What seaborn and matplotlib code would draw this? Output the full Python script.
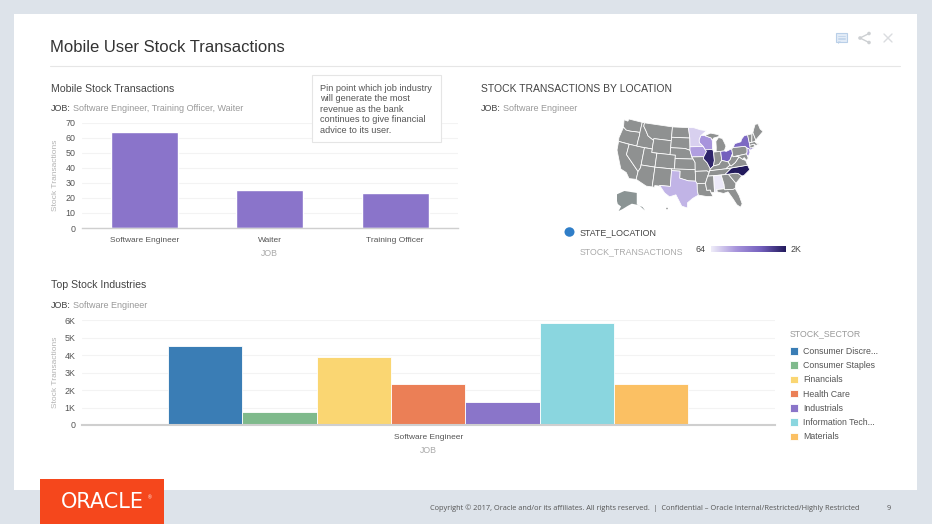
import numpy as np
import pandas as pd
import matplotlib
matplotlib.use("Agg")
import matplotlib.pyplot as plt
from matplotlib.patches import Rectangle, Circle, Ellipse, Polygon
from matplotlib.colors import LinearSegmentedColormap, Normalize
import seaborn as sns

# ---------- data ----------
jobs = ["Software Engineer", "Waiter", "Training Officer"]
job_values = [64, 25, 23]
sectors = ["Consumer Discre...", "Consumer Staples", "Financials", "Health Care",
           "Industrials", "Information Tech...", "Materials"]
sector_values = [4500, 750, 3900, 2350, 1300, 5850, 2370]
sector_colors = ["#3A7DB5", "#7FBA8C", "#FAD672", "#EB7F56", "#8A75C9", "#8AD6DF", "#FBC063"]
state_values = {"IL": 1900, "NC": 2000, "OH": 1350, "NY": 1250, "WI": 720, "NJ": 800,
                "IA": 640, "TX": 480, "MN": 280, "AL": 100}
states = {
 "WA": [(-124.7,48.4),(-123,48.3),(-122.8,49),(-117,49),(-117,46),(-119,45.9),(-121,45.7),(-122.7,45.7),(-124,46.3)],
 "OR": [(-124,46.3),(-122.7,45.7),(-121,45.7),(-119,45.9),(-117,46),(-116.9,45),(-117,44),(-117,42),(-124.2,42),(-124.5,43)],
 "CA": [(-124.2,42),(-120,42),(-120,39),(-114.6,35),(-114.7,32.7),(-117.1,32.5),(-118.5,34),(-120.6,34.6),(-122,36.8),(-123.8,39.5)],
 "NV": [(-120,42),(-114,42),(-114,36.2),(-114.6,35),(-120,39)],
 "ID": [(-117,49),(-116,49),(-116,48),(-114.5,46.6),(-113.5,45.5),(-111,44.5),(-111,42),(-117,42),(-117,44),(-116.9,45),(-117,46)],
 "MT": [(-116,49),(-104,49),(-104,45),(-111,45),(-111,44.5),(-113.5,45.5),(-114.5,46.6),(-116,48)],
 "WY": [(-111,45),(-104,45),(-104,41),(-111,41)],
 "UT": [(-114,42),(-111,42),(-111,41),(-109,41),(-109,37),(-114,37)],
 "AZ": [(-114,37),(-109,37),(-109,31.3),(-111,31.3),(-114.7,32.7),(-114.6,35),(-114,36.2)],
 "CO": [(-109,41),(-102,41),(-102,37),(-109,37)],
 "NM": [(-109,37),(-103,37),(-103,32),(-106.6,32),(-106.5,31.8),(-108.2,31.8),(-108.2,31.3),(-109,31.3)],
 "ND": [(-104,49),(-97.2,49),(-96.6,46),(-104,46)],
 "SD": [(-104,46),(-96.6,46),(-96.5,43.5),(-96.5,42.5),(-98.5,43),(-104,43)],
 "NE": [(-104,43),(-98.5,43),(-96.5,42.5),(-95.8,40.6),(-95.3,40),(-102,40),(-102,41),(-104,41)],
 "KS": [(-102,40),(-95.3,40),(-94.6,39),(-94.6,37),(-102,37)],
 "OK": [(-103,37),(-94.6,37),(-94.6,36.5),(-94.5,33.7),(-97,33.8),(-100,34.5),(-100,36.5),(-103,36.5)],
 "TX": [(-106.6,32),(-103,32),(-103,36.5),(-100,36.5),(-100,34.5),(-97,33.8),(-94.5,33.7),(-94,33),(-94,31),(-93.7,29.7),(-95.5,28.8),(-97.2,27.5),(-97.2,26),(-99,26.5),(-101,29.7),(-103,29),(-104.7,30)],
 "MN": [(-97.2,49),(-95,49),(-92,48.3),(-89.6,48),(-92,46.7),(-92.8,45.5),(-92.8,44.7),(-91.3,43.5),(-96.5,43.5),(-96.6,46)],
 "IA": [(-96.5,43.5),(-91.3,43.5),(-90.2,42),(-91.3,40.6),(-95.8,40.6),(-96.5,42.5)],
 "MO": [(-95.8,40.6),(-91.3,40.6),(-91.5,40),(-90.2,38.8),(-89.2,37),(-89.5,36.5),(-89.7,36),(-90.4,36.5),(-94.6,36.5),(-94.6,39),(-95.3,40)],
 "AR": [(-94.6,36.5),(-90.4,36.5),(-89.7,36),(-90.3,35),(-91.2,33),(-94,33),(-94.5,33.7)],
 "LA": [(-94,33),(-91.2,33),(-90.9,31),(-89.7,31),(-89.5,30.2),(-89,29.1),(-91,29.2),(-93.7,29.7),(-94,31)],
 "WI": [(-92,46.7),(-90.5,46.6),(-88,45.8),(-87.6,45.1),(-87.8,42.5),(-90.6,42.5),(-91.3,43.5),(-92.8,44.7),(-92.8,45.5)],
 "IL": [(-90.6,42.5),(-87.8,42.5),(-87.5,41.7),(-87.5,39.3),(-88,37.8),(-89.2,37),(-90.2,38.8),(-91.5,40),(-91.3,40.6),(-90.2,42)],
 "MI": [(-86.5,41.8),(-84.8,41.7),(-83.4,41.7),(-82.5,43),(-82.9,44),(-83.5,45.3),(-85,45.7),(-86.2,44.7),(-86.3,43)],
 "UP": [(-90.5,46.6),(-88,47.2),(-84.8,46.5),(-84.7,46),(-87,45.7),(-87.6,45.1),(-88,45.8)],
 "IN": [(-87.5,41.7),(-84.8,41.7),(-84.8,39.1),(-86,38),(-88,37.8),(-87.5,39.3)],
 "OH": [(-84.8,41.7),(-83.4,41.7),(-82.7,41.5),(-80.5,42),(-80.5,40.6),(-81.7,39),(-82.6,38.5),(-84.8,39.1)],
 "KY": [(-89.2,37),(-88,37.8),(-86,38),(-84.8,39.1),(-82.6,38.5),(-82,37.5),(-83.7,36.6),(-89.5,36.5)],
 "TN": [(-90.3,35),(-89.7,36),(-89.5,36.5),(-83.7,36.6),(-81.7,36.6),(-84.3,35)],
 "MS": [(-90.3,35),(-88.2,35),(-88.4,30.3),(-89.5,30.2),(-89.7,31),(-90.9,31),(-91.2,33)],
 "AL": [(-88.2,35),(-85.6,35),(-85,32.3),(-85,31),(-87.6,31),(-87.5,30.3),(-88.4,30.3)],
 "GA": [(-85.6,35),(-83.1,35),(-81,32.1),(-81.5,30.7),(-82.2,30.5),(-85,30.7),(-85,32.3)],
 "FL": [(-87.5,31),(-85,31),(-85,30.7),(-82.2,30.5),(-81.5,30.7),(-80.6,28.5),(-80.1,26),(-80.8,25.1),(-81.8,26),(-82.8,28),(-84,30),(-85.5,29.7),(-87.5,30.3)],
 "SC": [(-83.1,35),(-80.8,35),(-79.7,34.8),(-78.6,33.9),(-81,32.1)],
 "NC": [(-84.3,35),(-81.7,36.6),(-75.9,36.6),(-75.5,35.2),(-77.9,33.9),(-78.6,33.9),(-79.7,34.8),(-80.8,35),(-83.1,35)],
 "VA": [(-83.7,36.6),(-75.9,36.6),(-76.2,38),(-77.2,38.5),(-78.3,39.4),(-80,38),(-81.7,37.2),(-82,37.5)],
 "WV": [(-82.6,38.5),(-82,37.5),(-81.7,37.2),(-80,38),(-78.3,39.4),(-79.5,39.7),(-80.5,39.7),(-80.5,40.6),(-81.7,39)],
 "PA": [(-80.5,42),(-79.8,42.3),(-75.3,42),(-74.7,41.4),(-75,40.3),(-75.4,39.8),(-80.5,39.7)],
 "NY": [(-79.8,42.3),(-79,43.3),(-76.5,43.5),(-76,44.2),(-74.7,45),(-73.3,45),(-73.4,42.7),(-73.5,41.3),(-71.9,41),(-74,40.6),(-74,41),(-74.7,41.4),(-75.3,42)],
 "NJ": [(-74.7,41.4),(-74,41),(-74,40),(-74.9,39),(-75.5,39.6),(-75,40.3)],
 "MD": [(-79.5,39.7),(-75.4,39.8),(-75.1,38.5),(-75.9,38),(-76.5,38.9),(-77.2,38.5),(-78.3,39.4)],
 "CT": [(-73.5,42),(-71.8,42),(-71.8,41.3),(-73.5,41.1)],
 "MA": [(-73.4,42.7),(-71.3,42.7),(-70.7,42),(-70,41.7),(-71.2,41.5),(-71.8,42),(-73.5,42)],
 "VT": [(-73.3,45),(-71.5,45),(-72.4,42.7),(-73.4,42.7)],
 "NH": [(-71.5,45),(-71,45.3),(-70.7,43),(-71.3,42.7),(-72.4,42.7)],
 "ME": [(-71,45.3),(-70.3,46.2),(-69.2,47.4),(-68,47.3),(-67.8,45.7),(-67,44.8),(-70.7,43)],
}
alaska = [(-141,69.6),(-141,60.3),(-137,58.8),(-131,55.2),(-134,58),(-140,59.8),(-147,60.8),(-152,59),(-158,56.5),(-163,54.8),(-160,58.5),(-164,60.5),(-165,63),(-165,66),(-165,68.5),(-156,71.2)]

# ---------- helpers ----------
W, H = 932, 524
sns.set_theme(style="white")
plt.rcParams["font.family"] = ["Liberation Sans", "DejaVu Sans"]
fig = plt.figure(figsize=(W / 100, H / 100), dpi=100, facecolor="#DDE3EA")


def px_axes(x0, y0, x1, y1, **kw):
    return fig.add_axes([x0 / W, 1 - y1 / H, (x1 - x0) / W, (y1 - y0) / H], **kw)


bg = fig.add_axes([0, 0, 1, 1], zorder=-1)
bg.set_xlim(0, W); bg.set_ylim(H, 0); bg.axis("off")
top = fig.add_axes([0, 0, 1, 1], zorder=10)
top.set_xlim(0, W); top.set_ylim(H, 0); top.axis("off"); top.patch.set_alpha(0)

bg.add_patch(Rectangle((14, 14), 903, 476, fc="white", ec="none"))
bg.plot([50, 900], [66, 66], color="#E6E6E6", lw=0.8)


def label(x, y, s, size=6.45, color="#444444", ax=top, **kw):
    kw.setdefault("va", "center")
    return ax.text(x, y, s, fontsize=size, color=color, **kw)


label(50, 48, "Mobile User Stock Transactions", size=12, color="#333333")
label(51, 88.5, "Mobile Stock Transactions", size=7.6)
label(51, 108.5, "JOB:")
label(73, 108.5, "Software Engineer, Training Officer, Waiter", color="#999999")
label(481, 88.5, "STOCK TRANSACTIONS BY LOCATION", size=7.5)
label(481, 108.5, "JOB:")
label(503, 108.5, "Software Engineer", color="#999999")
label(51, 285.5, "Top Stock Industries", size=7.6)
label(51, 305.5, "JOB:")
label(73, 305.5, "Software Engineer", color="#999999")


def style_bar(ax, ticks, ticklabels, lab_x, lab_y, base_lw):
    ax.set_yticks(ticks, ticklabels)
    ax.tick_params(axis="both", length=0, labelcolor="#555555")
    ax.tick_params(axis="y", pad=4.5, labelsize=6.4)
    ax.tick_params(axis="x", pad=6.8, labelsize=6.0)
    ax.grid(axis="y", color="#F3F3F3", lw=0.8)
    ax.set_axisbelow(True)
    for name in ("top", "left", "right"):
        ax.spines[name].set_visible(False)
    ax.spines["bottom"].set_color("#CFCFCF")
    ax.spines["bottom"].set_linewidth(base_lw)
    ax.set_xlabel("JOB", fontsize=6.3, color="#AAAAAA", va="center")
    ax.set_ylabel("Stock Transactions", fontsize=6.0, color="#B4B4B4", va="center")
    ax.xaxis.set_label_coords(0.5, lab_y)
    ax.yaxis.set_label_coords(lab_x, 0.5)


# ---------- top left bars ----------
ax1 = px_axes(81.5, 122.7, 458, 228)
sns.barplot(data=pd.DataFrame({"job": jobs, "value": job_values}), x="job", y="value",
            color="#8A74CA", saturation=1, width=0.537, ax=ax1)
ax1.set_ylim(0, 70)
style_bar(ax1, range(0, 71, 10), [str(v) for v in range(0, 71, 10)],
          (55.5 - 81.5) / 376.5, -25.5 / 105.3, 1.0)

# ---------- bottom bars ----------
ax2 = px_axes(81.5, 320.3, 775, 425)
frame = pd.DataFrame({"job": ["Software Engineer"] * len(sectors), "sector": sectors, "value": sector_values})
sns.barplot(data=frame, x="job", y="value", hue="sector", hue_order=sectors,
            palette=sector_colors, saturation=1, width=0.75,
            edgecolor="white", linewidth=0.6, ax=ax2)
ax2.set_ylim(0, 6000)
style_bar(ax2, range(0, 6001, 1000), ["0", "1K", "2K", "3K", "4K", "5K", "6K"],
          (55.5 - 81.5) / 693.5, -25.5 / 104.7, 1.5)
sns.move_legend(ax2, "upper left", bbox_to_anchor=(790 / W, 1 - 329.5 / H),
                bbox_transform=fig.transFigure, frameon=False, title="STOCK_SECTOR",
                fontsize=6.3, title_fontsize=6.3, handlelength=0.95, handleheight=0.95,
                handletextpad=0.55, labelspacing=0.6, borderpad=0, borderaxespad=0)
leg = ax2.get_legend()
leg._legend_box.align = "left"
leg._legend_box.sep = 6
leg.get_title().set_color("#999999")
for t in leg.get_texts():
    t.set_color("#555555")

# ---------- map ----------
cmap = LinearSegmentedColormap.from_list("stock", ["#EFEDF9", "#A895DC", "#7460BE", "#221A5C"])
norm = Normalize(64, 2000)


def albers(pts):
    lon, lat = np.radians(np.array(pts)).T
    p1, p2, p0, l0 = np.radians([29.5, 45.5, 37.5, -96])
    n = (np.sin(p1) + np.sin(p2)) / 2
    c = np.cos(p1) ** 2 + 2 * n * np.sin(p1)
    rho = np.sqrt(c - 2 * n * np.sin(lat)) / n
    rho0 = np.sqrt(c - 2 * n * np.sin(p0)) / n
    theta = n * (lon - l0)
    return np.column_stack([rho * np.sin(theta), rho0 - rho * np.cos(theta)])


map_ax = px_axes(617, 119, 763, 208)
map_ax.axis("off")
map_ax.patch.set_alpha(0)
projected = {k: albers(v) for k, v in states.items()}
all_pts = np.vstack(list(projected.values()))
for code, xy in projected.items():
    val = state_values.get("MI" if code == "UP" else code)
    fc = "#8F9191" if val is None else cmap(norm(val))
    map_ax.fill(xy[:, 0], xy[:, 1], fc=fc, ec="white", lw=0.55)
map_ax.set_xlim(all_pts[:, 0].min(), all_pts[:, 0].max())
map_ax.set_ylim(all_pts[:, 1].min(), all_pts[:, 1].max())

ak_ax = px_axes(617, 191, 645, 211)
ak_ax.axis("off")
ak_ax.patch.set_alpha(0)
ak = np.array(alaska)
ak_ax.fill(ak[:, 0], ak[:, 1], fc="#8B9494", ec="none")
ak_ax.set_xlim(ak[:, 0].min(), ak[:, 0].max())
ak_ax.set_ylim(ak[:, 1].min(), ak[:, 1].max())

top.add_patch(Circle((667, 208.5), 0.8, fc="#8F9191", ec="none"))

# map legend
top.add_patch(Ellipse((569.5, 232), 10, 9.5, fc="#2F7EC8", ec="none"))
label(580, 232.5, "STATE_LOCATION", size=6.4)
label(580, 252, "STOCK_TRANSACTIONS", size=6.3, color="#AAAAAA")
label(695, 249.5, "64", size=6.4)
label(791, 249.5, "2K", size=6.4)
bar_ax = px_axes(711, 246, 786, 252.5)
bar_ax.imshow(np.linspace(0, 1, 256)[None, :], aspect="auto", cmap=cmap)
bar_ax.axis("off")

# ---------- callout ----------
top.add_patch(Rectangle((311.5, 74.5), 129, 67.5, fc="white", ec="#E5E5E5", lw=0.8))
callout = ["Pin point which job industry", "will generate the most", "revenue as the bank",
           "continues to give financial", "advice to its user."]
for i, line in enumerate(callout):
    label(320, 88.5 + i * 10.4, line, size=6.6, color="#555555")

# ---------- icons ----------
top.add_patch(Rectangle((835.5, 33), 11.5, 8.5, fc="#E3ECF7", ec="#B9CFE8", lw=0.8))
top.add_patch(Polygon([(838, 41.5), (841, 41.5), (838, 44)], fc="#B9CFE8", ec="none"))
for yy in (35.5, 37.5, 39.3):
    top.plot([837.5, 845], [yy, yy], color="#B9CFE8", lw=0.5)
top.plot([869, 860, 869], [33.5, 38, 42.5], color="#CDD0D3", lw=1)
for c in [(869, 33.5), (860, 38), (869, 42.5)]:
    top.add_patch(Circle(c, 1.8, fc="#CDD0D3", ec="none"))
top.plot([884, 892], [34, 42], color="#DADCDF", lw=1)
top.plot([884, 892], [42, 34], color="#DADCDF", lw=1)

# ---------- footer ----------
top.add_patch(Rectangle((40, 479), 124, 45, fc="#F5471C", ec="none"))
label(102, 502, "ORACLE", size=15, color="white", ha="center", family=["DejaVu Sans"])
label(150, 497.5, "®", size=3.5, color="white", ha="center")
label(430, 508, "Copyright © 2017, Oracle and/or its affiliates. All rights reserved.  |  Confidential – Oracle Internal/Restricted/Highly Restricted",
      size=5.3, color="#555555", family=["Open Sans", "DejaVu Sans"])
label(889, 508, "9", size=5.3, color="#555555", ha="center", family=["Open Sans", "DejaVu Sans"])

fig.savefig("out.png", dpi=100, facecolor=fig.get_facecolor())
